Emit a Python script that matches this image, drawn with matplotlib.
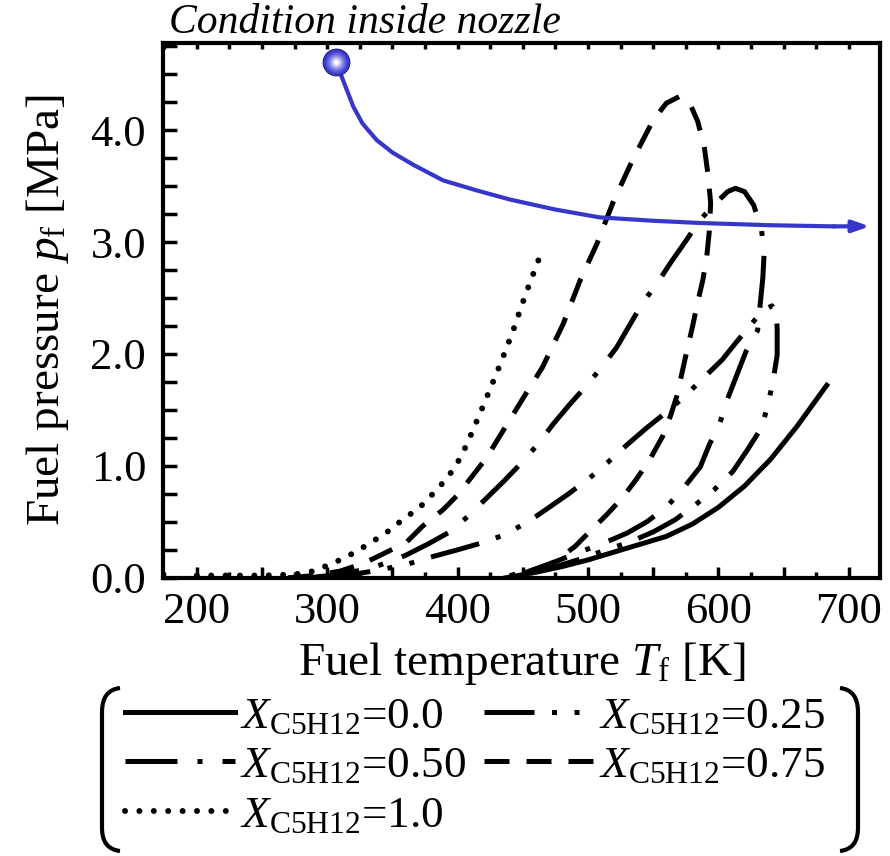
import matplotlib
matplotlib.use('Agg')
import matplotlib.pyplot as plt
from matplotlib.ticker import MultipleLocator, FuncFormatter
from matplotlib.path import Path
from matplotlib.patches import PathPatch

plt.rcParams['font.family'] = 'Liberation Serif'
plt.rcParams['mathtext.fontset'] = 'custom'
plt.rcParams['mathtext.rm'] = 'Liberation Serif'
plt.rcParams['mathtext.it'] = 'Liberation Serif:italic'

# X_C5H12 = 0.0
t_x000 = [437, 460, 480, 500, 520, 540, 560, 580, 600, 620, 640, 660, 683]
p_x000 = [0.00, 0.05, 0.10, 0.16, 0.23, 0.30, 0.37, 0.48, 0.63, 0.82, 1.06, 1.35, 1.72]

# X_C5H12 = 0.25
t_x025 = [295, 320, 340, 361, 381, 400, 418, 435, 454, 469, 485, 501, 515, 530, 545,
          560, 574, 588, 603, 614, 622, 629, 636, 641, 644, 645, 645, 642, 638, 633,
          622, 611, 597, 582, 567, 550, 532, 514, 492, 470, 448]
p_x025 = [0.00, 0.03, 0.07, 0.12, 0.19, 0.25, 0.31, 0.38, 0.50, 0.62, 0.75, 0.89, 1.03, 1.19, 1.34,
          1.48, 1.62, 1.78, 1.95, 2.11, 2.22, 2.32, 2.40, 2.43, 2.38, 2.23, 1.99, 1.77, 1.55, 1.34,
          1.14, 0.95, 0.79, 0.65, 0.52, 0.41, 0.32, 0.25, 0.16, 0.08, 0.02]

# X_C5H12 = 0.50
t_x050 = [285, 310, 335, 360, 377, 394, 408, 422, 436, 450, 462, 473, 486, 499, 511,
          522, 532, 542, 553, 563, 575, 586, 599, 607, 613, 620, 627, 633, 635, 634,
          630, 621, 614, 607, 601, 593, 586, 573, 560, 545, 530, 510, 491, 470, 450]
p_x050 = [0.00, 0.03, 0.09, 0.20, 0.30, 0.41, 0.55, 0.71, 0.87, 1.04, 1.20, 1.37, 1.55, 1.72, 1.89,
          2.06, 2.26, 2.46, 2.63, 2.81, 3.01, 3.20, 3.36, 3.45, 3.48, 3.45, 3.33, 3.11, 2.90, 2.68,
          2.21, 2.02, 1.81, 1.60, 1.38, 1.19, 0.99, 0.80, 0.63, 0.50, 0.40, 0.30, 0.22, 0.12, 0.04]

# X_C5H12 = 0.75
t_x075 = [270, 290, 310, 328, 344, 361, 373, 389, 400, 412, 422, 432, 441, 451, 465, 481,
          494, 507, 519, 534, 550, 560, 570, 578, 584, 589, 592, 594, 593, 591, 588, 584,
          580, 576, 572, 568, 563, 557, 547, 537, 526, 514, 501, 490, 474, 458, 440]
p_x075 = [0.00, 0.02, 0.06, 0.13, 0.22, 0.32, 0.46, 0.61, 0.74, 0.92, 1.07, 1.26, 1.43, 1.62, 1.88, 2.27,
          2.66, 2.99, 3.35, 3.73, 4.09, 4.24, 4.30, 4.24, 4.08, 3.86, 3.60, 3.35, 3.10, 2.87, 2.66, 2.46,
          2.24, 2.04, 1.83, 1.62, 1.44, 1.26, 1.05, 0.88, 0.71, 0.56, 0.41, 0.28, 0.14, 0.07, 0.02]

# X_C5H12 = 1.0
t_x100 = [200, 225, 250, 275, 290, 302, 310, 320, 333, 346, 358, 371, 381, 392, 400, 407, 419, 431, 442, 452, 463]
p_x100 = [0.02, 0.02, 0.02, 0.03, 0.06, 0.12, 0.16, 0.22, 0.31, 0.41, 0.52, 0.63, 0.75, 0.89, 1.03, 1.19, 1.52, 1.86, 2.19, 2.53, 2.87]

# condition inside nozzle
t_nozzle = [307, 311, 315, 320, 327, 338, 350, 366, 389, 415, 440, 475, 509, 550, 586, 640, 688, 716]
p_nozzle = [4.61, 4.48, 4.36, 4.21, 4.06, 3.91, 3.80, 3.69, 3.55, 3.46, 3.38, 3.29, 3.22, 3.19, 3.17, 3.15, 3.14, 3.14]

blue = '#3636c8'
lw = 3.6

fig = plt.figure(figsize=(8.9, 8.56), dpi=100)
ax = fig.add_axes([0.183, 0.325, 0.806, 0.625])

l0, = ax.plot(t_x000, p_x000, color='k', lw=lw, solid_joinstyle='round')
l25, = ax.plot(t_x025, p_x025, color='k', lw=lw, linestyle=(0, (10, 3.5, 1, 3.5, 1, 3.5)))
l50, = ax.plot(t_x050, p_x050, color='k', lw=lw, linestyle=(0, (10.4, 4, 1, 4)))
l75, = ax.plot(t_x075, p_x075, color='k', lw=lw, linestyle=(0, (5, 3.4)))
l100, = ax.plot(t_x100, p_x100, color='k', lw=4.3, linestyle=(0, (0.01, 2.4)),
                dash_capstyle='round')

ax.plot(t_nozzle[:-1], p_nozzle[:-1], color=blue, lw=3.0, zorder=5,
        solid_joinstyle='round')
ax.annotate('', xy=(t_nozzle[-1], p_nozzle[-1]), xytext=(t_nozzle[-2], p_nozzle[-2]),
            arrowprops=dict(arrowstyle='-|>,head_length=1.0,head_width=0.35',
                            color=blue, lw=3.0, shrinkA=0, shrinkB=0), zorder=5)

# shaded ball at the start
ax.plot(t_nozzle[0], p_nozzle[0], 'o', ms=20, color='#1a1a60', mec='none', zorder=6)
for i in range(14):
    f = i / 13
    c = (0.21 + 0.79 * f ** 1.5, 0.21 + 0.79 * f ** 1.5, 0.78 + 0.22 * f)
    ax.plot(t_nozzle[0], p_nozzle[0], 'o', ms=19 * (1 - 0.85 * f), color=c,
            mec='none', zorder=7 + i)

ax.set_xlim(174, 724)
ax.set_ylim(0, 4.78)

ax.xaxis.set_major_locator(MultipleLocator(50))
ax.xaxis.set_minor_locator(MultipleLocator(25))
ax.xaxis.set_major_formatter(FuncFormatter(lambda v, p: '%d' % v if v % 100 == 0 else ''))
ax.yaxis.set_major_locator(MultipleLocator(1.0))
ax.yaxis.set_minor_locator(MultipleLocator(0.25))
ax.yaxis.set_major_formatter(FuncFormatter(lambda v, p: '%.1f' % v))

ax.tick_params(axis='x', which='major', direction='in', length=8, width=2.5,
               labelsize=32, pad=10, top=False)
ax.tick_params(axis='x', which='minor', direction='in', length=4, width=2.5, top=False)
ax.tick_params(axis='y', which='both', direction='in', length=10, width=2.5,
               labelsize=32, pad=12, right=False)
top = ax.secondary_xaxis('top')
top.xaxis.set_major_locator(MultipleLocator(25))
top.tick_params(direction='in', length=4, width=2.5, labeltop=False)
top.spines['top'].set_visible(False)

for s in ax.spines.values():
    s.set_linewidth(3.0)

ax.set_xlabel(r'Fuel temperature $T_{\mathrm{f}}$ [K]', fontsize=34, labelpad=6)
ax.set_ylabel(r'Fuel pressure $p_{\mathrm{f}}$ [MPa]', fontsize=34, labelpad=14)
fig.text(0.19, 0.974, 'Condition inside nozzle', fontsize=30, style='italic',
         ha='left', va='center')

lab = r'$X_{\mathrm{C5H12}}$'
handles = [l0, l50, l100, l25, l75]
labels = [lab + '=0.0', lab + '=0.50', lab + '=1.0', lab + '=0.25', lab + '=0.75']
fig.legend(handles, labels, ncol=2, loc='upper left', bbox_to_anchor=(0.12, 0.208),
           frameon=False, fontsize=32.5, handlelength=2.45, handletextpad=0.1,
           columnspacing=0.4, labelspacing=0.2, borderaxespad=0)

# brackets around the legend
over = fig.add_axes([0, 0, 1, 1], facecolor='none')
over.set_xlim(0, 890)
over.set_ylim(856, 0)
over.axis('off')
for xe, xt in [(102, 120), (858, 840)]:
    verts = [(xt, 688), (xe, 690), (xe, 712), (xe, 828), (xe, 849), (xt, 851)]
    codes = [Path.MOVETO, Path.CURVE3, Path.CURVE3, Path.LINETO, Path.CURVE3, Path.CURVE3]
    over.add_patch(PathPatch(Path(verts, codes), fill=False, lw=3.0, color='k'))

fig.savefig('out.png', dpi=100)
